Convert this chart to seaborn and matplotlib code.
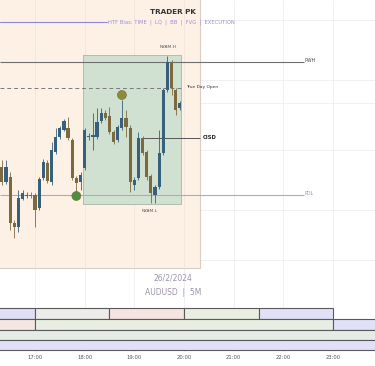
import numpy as np
import pandas as pd
import matplotlib
matplotlib.use("Agg")
import matplotlib.pyplot as plt
import matplotlib.transforms as mtransforms
from matplotlib.patches import Rectangle
import seaborn as sns

# ---------------- data (AUDUSD 5M, 26/2/2024) ----------------
times = pd.date_range("2024-02-26 16:20", periods=44, freq="5min")
opens_pts = [65666, 65636, 65646, 65554, 65546, 65602, 65608, 65610, 65610, 65584,
             65644, 65674, 65636, 65696, 65726, 65740, 65744, 65720, 65644, 65636,
             65664, 65726, 65726, 65726, 65758, 65774, 65768, 65736, 65720, 65744,
             65764, 65744, 65630, 65644, 65724, 65696, 65648, 65610, 65626, 65694,
             65820, 65874, 65820, 65784]
highs_pts = [65680, 65680, 65656, 65560, 65620, 65620, 65616, 65616, 65614, 65646,
             65682, 65680, 65716, 65744, 65748, 65762, 65766, 65724, 65648, 65656,
             65744, 65734, 65774, 65784, 65784, 65780, 65786, 65740, 65750, 65800,
             65780, 65750, 65646, 65736, 65728, 65700, 65652, 65630, 65740, 65824,
             65888, 65880, 65824, 65798]
lows_pts = [65630, 65632, 65540, 65524, 65536, 65600, 65604, 65604, 65546, 65580,
            65640, 65634, 65630, 65692, 65722, 65738, 65720, 65640, 65616, 65620,
            65660, 65720, 65700, 65722, 65754, 65760, 65732, 65712, 65716, 65740,
            65726, 65616, 65620, 65640, 65690, 65640, 65594, 65594, 65622, 65690,
            65816, 65810, 65770, 65780]
closes_pts = [65636, 65666, 65554, 65546, 65604, 65614, 65610, 65608, 65580, 65642,
              65676, 65638, 65700, 65726, 65744, 65758, 65724, 65644, 65634, 65650,
              65740, 65728, 65730, 65756, 65774, 65764, 65736, 65716, 65746, 65764,
              65746, 65636, 65640, 65724, 65694, 65646, 65614, 65626, 65694, 65820,
              65876, 65824, 65780, 65794]

level_names = ["PWH", "True Day Open", "CISD", "PDL"]
level_prices = [0.65876, 0.65824, 0.65724, 0.65610]

nyam_high, nyam_low = 0.65890, 0.65592
marker_hours = [18.75, 17.833]
marker_prices = [0.65810, 0.65608]
marker_kind = ["open", "low"]

hour_ticks = [17, 18, 19, 20, 21, 22, 23]
hour_labels = ["17:00", "18:00", "19:00", "20:00", "21:00", "22:00", "23:00"]

# sessions rows: (start hour, end hour, colour)
row1 = [(16.0, 17.0, "#dfdff6"), (17.0, 18.5, "#ececea"), (18.5, 20.0, "#f6e4e0"),
        (20.0, 21.5, "#e9efe0"), (21.5, 23.0, "#e0e0f7")]
row2 = [(16.0, 17.0, "#f6e6e2"), (17.0, 23.0, "#e8efe2"), (23.0, 24.5, "#e0e0f7")]
row3 = [(16.0, 24.5, "#e5ebe6")]
row4 = [(16.0, 24.5, "#e0e0f8")]

# ---------------- derived ----------------
hours = np.array(times.hour + times.minute / 60.0, dtype=float)
o = np.array(opens_pts) / 1e5
h = np.array(highs_pts) / 1e5
l = np.array(lows_pts) / 1e5
c = np.array(closes_pts) / 1e5

sns.set_theme(style="white")
plt.rcParams["font.family"] = ["DejaVu Sans"]

fig = plt.figure(figsize=(3.75, 3.66), dpi=100)
fig.patch.set_facecolor("white")
ax = fig.add_axes([0, 14 / 366, 1, 352 / 366])
ax.set_facecolor("white")
X0, X1 = 16.296, 23.845
ax.set_xlim(X0, X1)
ax.set_ylim(0.65296, 0.66000)
for s in ax.spines.values():
    s.set_visible(False)

# grid
for gx in hour_ticks:
    ax.axvline(gx, color="#f1ecec", lw=0.6, zorder=0.5)
for gy in [0.65960, 0.65840, 0.65794, 0.65700, 0.65580, 0.65480]:
    ax.axhline(gy, color="#f0eeee", lw=0.6, zorder=0.5)

# peach panel
ax.add_patch(Rectangle((X0 - 0.1, 0.65464), 20.32 - X0 + 0.1, 0.00600,
                       facecolor="#fdf1e6", edgecolor="#d8cfc4", lw=0.8, zorder=0.6))
for gx in [17, 18, 19, 20]:
    ax.plot([gx, gx], [0.65464, 0.66], color="#f3e4d8", lw=0.6, zorder=0.7)

# NY AM box
ax.add_patch(Rectangle((17.975, nyam_low), 19.94 - 17.975, nyam_high - nyam_low,
                       facecolor="#d1e1d1", edgecolor="#a9b5a9", lw=0.6, zorder=1))

# title texts
ax.plot([X0, 18.44], [0.65956, 0.65956], color="#8a86d8", lw=0.8, zorder=2)
ax.text(19.777, 0.65976, "TRADER PK", fontsize=5.2, fontweight="bold",
        color="#333333", ha="center", va="center", zorder=5)
ax.text(18.47, 0.65956, "HTF Bias: TIME  |  LQ  |  BB  |  FVG  |  EXECUTION",
        fontsize=3.8, color="#9d8fd4", ha="left", va="center", zorder=5)

# levels
ax.hlines(level_prices[0], X0, 22.41, color="#6e6e6e", lw=0.8, zorder=2)
ax.hlines(level_prices[1], X0, 19.94, color="#7a7a7a", lw=0.7,
          linestyles=(0, (4, 3)), zorder=2)
ax.hlines(level_prices[2], 19.173, 20.32, color="#555555", lw=0.7, zorder=2)
ax.hlines(level_prices[3], X0, 22.41, color="#a3abd0", lw=0.8, zorder=2)
ax.text(22.43, level_prices[0] + 0.00002, level_names[0], fontsize=3.4,
        color="#444444", ha="left", va="center", zorder=5)
ax.text(20.04, level_prices[1] + 0.00002, level_names[1], fontsize=3.2,
        color="#333333", ha="left", va="center", zorder=5)
ax.text(20.38, level_prices[2], level_names[2], fontsize=3.8, fontweight="bold",
        color="#222222", ha="left", va="center", zorder=5)
ax.text(22.43, level_prices[3] + 0.00002, level_names[3], fontsize=3.4,
        color="#8a92c4", ha="left", va="center", zorder=5)
ax.text(19.676, nyam_high + 0.00016, "NYAM.H", fontsize=3.2, color="#555555",
        ha="center", va="center", zorder=5)
ax.text(19.314, nyam_low - 0.00014, "NYAM.L", fontsize=3.2, color="#555555",
        ha="center", va="center", zorder=5)

# candles
up = c >= o
up_col, dn_col = "#36607c", "#7c6a3e"
cols = np.where(up, up_col, dn_col)
bottom = np.minimum(o, c)
height = np.maximum(np.abs(c - o), 0.000018)
ax.vlines(hours, l, h, colors=cols, lw=0.6, zorder=3)
ax.bar(hours, height, width=0.064, bottom=bottom, color=cols, linewidth=0, zorder=3.1)

# markers
mk = pd.DataFrame({"hour": marker_hours, "price": marker_prices, "kind": marker_kind})
sns.scatterplot(data=mk, x="hour", y="price", hue="kind",
                palette={"open": "#8f8a3e", "low": "#4f8d40"}, s=42,
                edgecolor="#6d6a30", linewidth=0.4, legend=False, ax=ax, zorder=4)
ax.set_xlabel("")
ax.set_ylabel("")

# date / symbol
ax.text(19.777, 0.65444, "26/2/2024", fontsize=5.5, color="#9c92ac",
        ha="center", va="center", zorder=5)
ax.text(19.777, 0.65414, "AUDUSD  |  5M", fontsize=5.5, color="#9c92ac",
        ha="center", va="center", zorder=5)

# session rows
tr = mtransforms.blended_transform_factory(ax.transData, ax.transAxes)
rows = [(row1, 0.094, 0.125), (row2, 0.0625, 0.094), (row3, 0.034, 0.0625),
        (row4, 0.0057, 0.034)]
for segs, y0, y1 in rows:
    for a, b, col in segs:
        ax.add_patch(Rectangle((a, y0), b - a, y1 - y0, transform=tr,
                               facecolor=col, edgecolor="#5a5a5a", lw=0.8, zorder=2))

ax.set_yticks([])
ax.set_xticks(hour_ticks)
ax.set_xticklabels(hour_labels)
ax.tick_params(axis="x", length=0, pad=2, labelsize=3.8, labelcolor="#555555")

fig.savefig("out.png", dpi=100, facecolor="white")
